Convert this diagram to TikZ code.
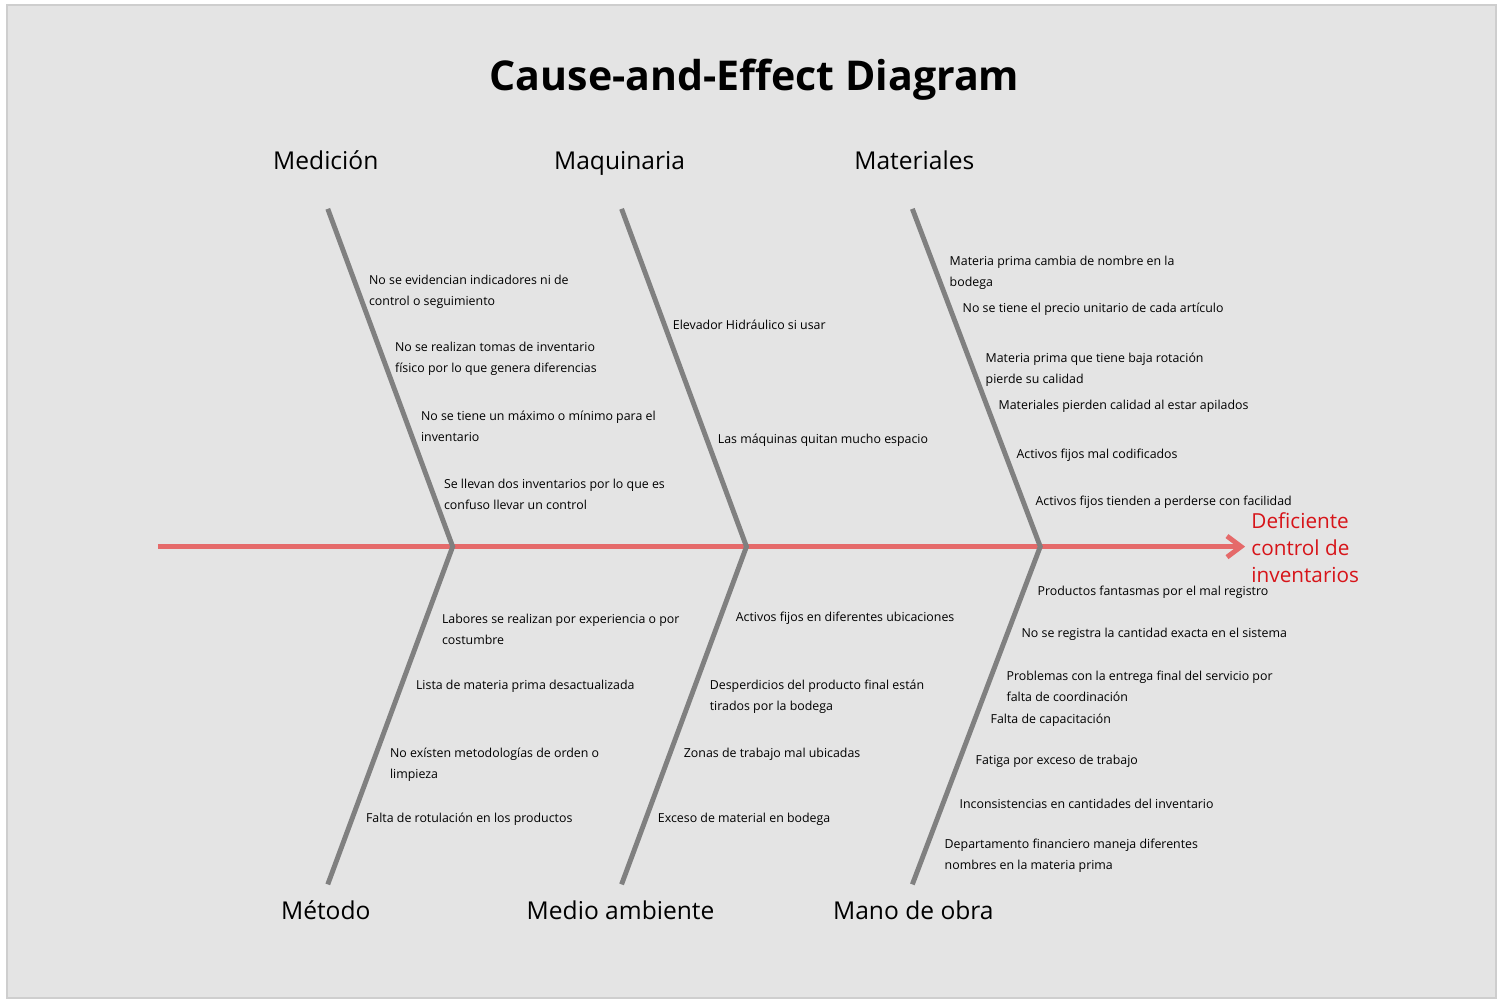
\documentclass[tikz,border=0pt]{standalone}
\usepackage{fontspec}
\setmainfont{Open Sans}
\usetikzlibrary{arrows.meta,positioning}
\definecolor{panelgray}{RGB}{228,228,228}
\definecolor{framegray}{RGB}{206,206,206}
\definecolor{bonegray}{RGB}{128,128,128}
\definecolor{spinered}{RGB}{229,106,106}
\definecolor{effectred}{RGB}{215,20,25}

\begin{document}
\begin{tikzpicture}[
    x=0.02cm, y=-0.02cm,
    cause/.style={anchor=west, align=left, inner sep=0pt, yshift=-1.2pt, font=\fontsize{7.05}{11.9}\selectfont},
    category/.style={anchor=base, inner sep=0pt, font=\fontsize{14}{17}\selectfont},
    bone/.style={draw=bonegray, line width=2.8pt},
    spine/.style={draw=spinered, line width=2.8pt, -{Straight Barb[length=8pt,width=12pt]}}
]
% Background panel
\fill[white] (0,0) rectangle (1497,999);
\draw[fill=panelgray, draw=framegray, line width=1.2pt] (7,5) rectangle (1497,999);

% Title
\node[anchor=base, font=\bfseries\fontsize{23.4}{28}\selectfont] (title) at (755,91) {Cause-and-Effect Diagram};

% Spine and joints
\coordinate (tail) at (158,547);
\coordinate (head) at (1246,547);
\coordinate (j1) at (453,547);
\coordinate (j2) at (747,547);
\coordinate (j3) at (1041,547);
\draw[spine] (tail) -- (head);

% Effect
\node[anchor=west, align=left, inner sep=0pt, text=effectred, font=\fontsize{11.8}{15.2}\selectfont] (effect) at (1252,548) {Deficiente\\control de\\inventarios};

% Bones
\coordinate (medtop) at (328,209);
\coordinate (maqtop) at (622,209);
\coordinate (mattop) at (913,209);
\coordinate (metbot) at (328,885);
\coordinate (ambbot) at (622,885);
\coordinate (obrbot) at (913,885);
\draw[bone] (medtop) -- (j1) -- (metbot);
\draw[bone] (maqtop) -- (j2) -- (ambbot);
\draw[bone] (mattop) -- (j3) -- (obrbot);

% Categories
\node[category] (medicion) at (326,170) {Medición};
\node[category] (maquinaria) at (620,170) {Maquinaria};
\node[category] (materiales) at (915,170) {Materiales};
\node[category] (metodo) at (326,920) {Método};
\node[category] (ambiente) at (621,920) {Medio ambiente};
\node[category] (manoobra) at (914,920) {Mano de obra};

% Causes: Medicion
\node[cause] (med1) at (369,289.5) {No se evidencian indicadores ni de\\control o seguimiento};
\node[cause] (med2) at (395,356.5) {No se realizan tomas de inventario\\físico por lo que genera diferencias};
\node[cause] (med3) at (421,424.5) {No se tiene un máximo o mínimo para el\\inventario};
\node[cause] (med4) at (444,492.5) {Se llevan dos inventarios por lo que es\\confuso llevar un control};

% Causes: Maquinaria
\node[cause] (maq1) at (673,323) {Elevador Hidráulico si usar};
\node[cause] (maq2) at (718,438) {Las máquinas quitan mucho espacio};

% Causes: Materiales
\node[cause] (mat1) at (950,271) {Materia prima cambia de nombre en la\\bodega};
\node[cause] (mat2) at (963,307) {No se tiene el precio unitario de cada artículo};
\node[cause] (mat3) at (986,367.5) {Materia prima que tiene baja rotación\\pierde su calidad};
\node[cause] (mat4) at (999,404) {Materiales pierden calidad al estar apilados};
\node[cause] (mat5) at (1017,453) {Activos fijos mal codificados};
\node[cause] (mat6) at (1036,500) {Activos fijos tienden a perderse con facilidad};

% Causes: Metodo
\node[cause] (met1) at (442,627.5) {Labores se realizan por experiencia o por\\costumbre};
\node[cause] (met2) at (416,685) {Lista de materia prima desactualizada};
\node[cause] (met3) at (390,763.5) {No exísten metodologías de orden o\\limpieza};
\node[cause] (met4) at (366,818) {Falta de rotulación en los productos};

% Causes: Medio ambiente
\node[cause] (amb1) at (736,617) {Activos fijos en diferentes ubicaciones};
\node[cause] (amb2) at (710,695.5) {Desperdicios del producto final están\\tirados por la bodega};
\node[cause] (amb3) at (684,753) {Zonas de trabajo mal ubicadas};
\node[cause] (amb4) at (658,818) {Exceso de material en bodega};

% Causes: Mano de obra
\node[cause] (obr1) at (1038,591) {Productos fantasmas por el mal registro};
\node[cause] (obr2) at (1022,633) {No se registra la cantidad exacta en el sistema};
\node[cause] (obr3) at (1007,684.5) {Problemas con la entrega final del servicio por\\falta de coordinación};
\node[cause] (obr4) at (991,719) {Falta de capacitación};
\node[cause] (obr5) at (976,760) {Fatiga por exceso de trabajo};
\node[cause] (obr6) at (960,802) {Inconsistencias en cantidades del inventario};
\node[cause] (obr7) at (945,854.5) {Departamento financiero maneja diferentes\\nombres en la materia prima};
\end{tikzpicture}
\end{document}
